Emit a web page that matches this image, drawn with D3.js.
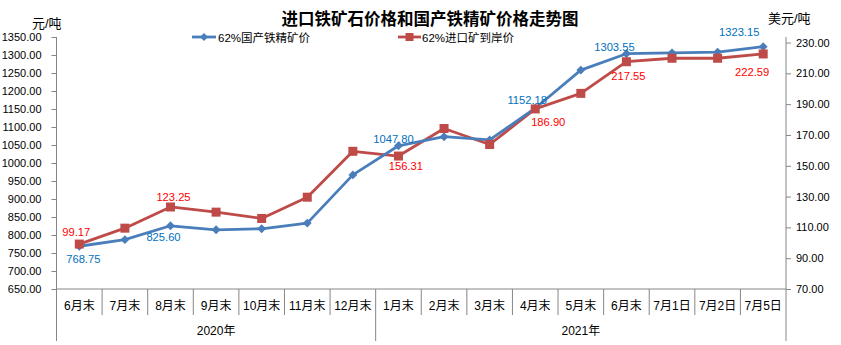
<!DOCTYPE html>
<html><head><meta charset="utf-8">
<script src="https://cdn.jsdelivr.net/npm/d3@7"></script>
<style>body{margin:0;background:#fff}svg{display:block}</style>
</head><body>
<svg id="c" width="841" height="345"></svg>
<script>
const categories = ["6月末","7月末","8月末","9月末","10月末","11月末","12月末","1月末","2月末","3月末","4月末","5月末","6月末","7月1日","7月2日","7月5日"];
const categoryYears = ["2020年","2020年","2020年","2020年","2020年","2020年","2020年","2021年","2021年","2021年","2021年","2021年","2021年","2021年","2021年","2021年"];
const domesticPrice = [768.75,787,825.60,814.5,817.3,833,967,1047.80,1073,1064,1152.18,1258,1303.55,1306,1308,1323.15];
const importPrice = [99.17,109.5,123.25,119.9,115.8,129.6,159.4,156.31,174.2,163.8,186.90,197,217.55,219.8,219.8,222.59];
const leftTicks = [650,700,750,800,850,900,950,1000,1050,1100,1150,1200,1250,1300,1350];
const rightTicks = [70,90,110,130,150,170,190,210,230];
const domesticLabelIdx = [0,2,7,10,12,15];
const importLabelIdx = [0,2,7,10,12,15];
const seriesNames = ["62%国产铁精矿价","62%进口矿到岸价"];
const title = "进口铁矿石价格和国产铁精矿价格走势图";

const svg = d3.select("#c");
const L = 56.5, R = 786, T = 37, B = 289;
const blue = "#4A7EBB", red = "#BE4B48";
const font = "'Liberation Sans', Arial, 'Noto Sans CJK SC', sans-serif";
const axisCol = "#868686";

const x = d3.scaleBand().domain(d3.range(categories.length)).range([L, R]).padding(0);
const cx = i => x(i) + x.bandwidth()/2;
const yL = d3.scaleLinear().domain([650,1350]).range([B, T]);
const yR = d3.scaleLinear().domain([70,233.6]).range([B, T]);

// title
svg.append("text").attr("x",430).attr("y",25).attr("text-anchor","middle")
  .attr("font-family","'Noto Sans CJK SC', sans-serif").attr("font-weight","bold").attr("font-size",16.5)
  .attr("fill","#000").text(title);
svg.append("text").attr("x",32).attr("y",28).attr("font-family",font).attr("font-size",13).text("元/吨");
svg.append("text").attr("x",768).attr("y",23).attr("font-family",font).attr("font-size",13).text("美元/吨");

// axes
const gL = svg.append("g").attr("transform",`translate(${L},0)`)
  .call(d3.axisLeft(yL).tickValues(leftTicks).tickSize(5).tickPadding(10).tickFormat(d3.format(".2f")));
const gR = svg.append("g").attr("transform",`translate(${R},0)`)
  .call(d3.axisRight(yR).tickValues(rightTicks).tickSize(5).tickPadding(5).tickFormat(d3.format(".2f")));
[gL,gR].forEach(g=>{
  g.select(".domain").attr("stroke",axisCol).attr("d", `M0,${T}V${B}`);
  g.selectAll(".tick line").attr("stroke",axisCol);
  g.selectAll(".tick text").attr("font-family",font).attr("font-size",11).attr("fill","#000");
});

// bottom axis
const gB = svg.append("g");
gB.append("line").attr("x1",L).attr("x2",R).attr("y1",B).attr("y2",B).attr("stroke",axisCol);
for (let i=0;i<=categories.length;i++){
  const xx = i<categories.length ? x(i) : R;
  const yearBoundary = i===0 || i===categories.length || categoryYears[i]!==categoryYears[i-1];
  gB.append("line").attr("x1",xx).attr("x2",xx).attr("y1",B).attr("y2",yearBoundary?341:315)
    .attr("stroke",axisCol);
}
gB.selectAll("text.m").data(categories).join("text").attr("class","m")
  .attr("x",(d,i)=>cx(i)).attr("y",310).attr("text-anchor","middle")
  .attr("font-family",font).attr("font-size",12).text(d=>d);
const years = Array.from(new Set(categoryYears));
years.forEach(yr=>{
  const idx = categoryYears.map((v,i)=>v===yr?i:-1).filter(i=>i>=0);
  const x0 = x(idx[0]), x1 = x(idx[idx.length-1])+x.bandwidth();
  gB.append("text").attr("x",(x0+x1)/2).attr("y",335).attr("text-anchor","middle")
    .attr("font-family",font).attr("font-size",12).text(yr);
});

// lines
const lineB = d3.line().x((d,i)=>cx(i)).y(d=>yL(d));
const lineR = d3.line().x((d,i)=>cx(i)).y(d=>yR(d));
svg.append("path").attr("d",lineR(importPrice)).attr("fill","none").attr("stroke",red).attr("stroke-width",2.8).attr("stroke-linejoin","round");
svg.append("path").attr("d",lineB(domesticPrice)).attr("fill","none").attr("stroke",blue).attr("stroke-width",2.8).attr("stroke-linejoin","round");

const diamond = d3.symbol().type(d3.symbolDiamond2).size(50);
svg.selectAll("path.dm").data(domesticPrice).join("path").attr("class","dm")
  .attr("d",diamond).attr("transform",(d,i)=>`translate(${cx(i)},${yL(d)})`).attr("fill",blue);
svg.selectAll("rect.sq").data(importPrice).join("rect").attr("class","sq")
  .attr("x",(d,i)=>cx(i)-4.5).attr("y",d=>yR(d)-4.5).attr("width",9).attr("height",9).attr("fill",red);

// data labels
const bOff = {0:[4,16.5],2:[-7,15],7:[-5,-3],10:[-8,-4],12:[-12,-3],15:[-24,-10.5]};
const rOff = {0:[-3,-8.5],2:[3,-5.5],7:[7.5,14],10:[13,17],12:[2,18],15:[-11,22.5]};
const lblSize = 11.2;
domesticLabelIdx.forEach(i=>{
  svg.append("text").attr("x",cx(i)+bOff[i][0]).attr("y",yL(domesticPrice[i])+bOff[i][1])
    .attr("text-anchor","middle").attr("font-family",font).attr("font-size",lblSize).attr("fill","#0070C0")
    .text(d3.format(".2f")(domesticPrice[i]));
});
importLabelIdx.forEach(i=>{
  svg.append("text").attr("x",cx(i)+rOff[i][0]).attr("y",yR(importPrice[i])+rOff[i][1])
    .attr("text-anchor","middle").attr("font-family",font).attr("font-size",lblSize).attr("fill","#FF0000")
    .text(d3.format(".2f")(importPrice[i]));
});

// legend
const lg = svg.append("g");
lg.append("line").attr("x1",192).attr("x2",216).attr("y1",37).attr("y2",37).attr("stroke",blue).attr("stroke-width",2.8);
lg.append("path").attr("d",d3.symbol().type(d3.symbolDiamond2).size(40)).attr("transform","translate(204,37)").attr("fill",blue);
lg.append("text").attr("x",218).attr("y",41.5).attr("font-family",font).attr("font-size",11.5).text(seriesNames[0]);
lg.append("line").attr("x1",398).attr("x2",421).attr("y1",37).attr("y2",37).attr("stroke",red).attr("stroke-width",2.8);
lg.append("rect").attr("x",405.5).attr("y",33).attr("width",8).attr("height",8).attr("fill",red);
lg.append("text").attr("x",422).attr("y",41.5).attr("font-family",font).attr("font-size",11.5).text(seriesNames[1]);
</script>
</body></html>
